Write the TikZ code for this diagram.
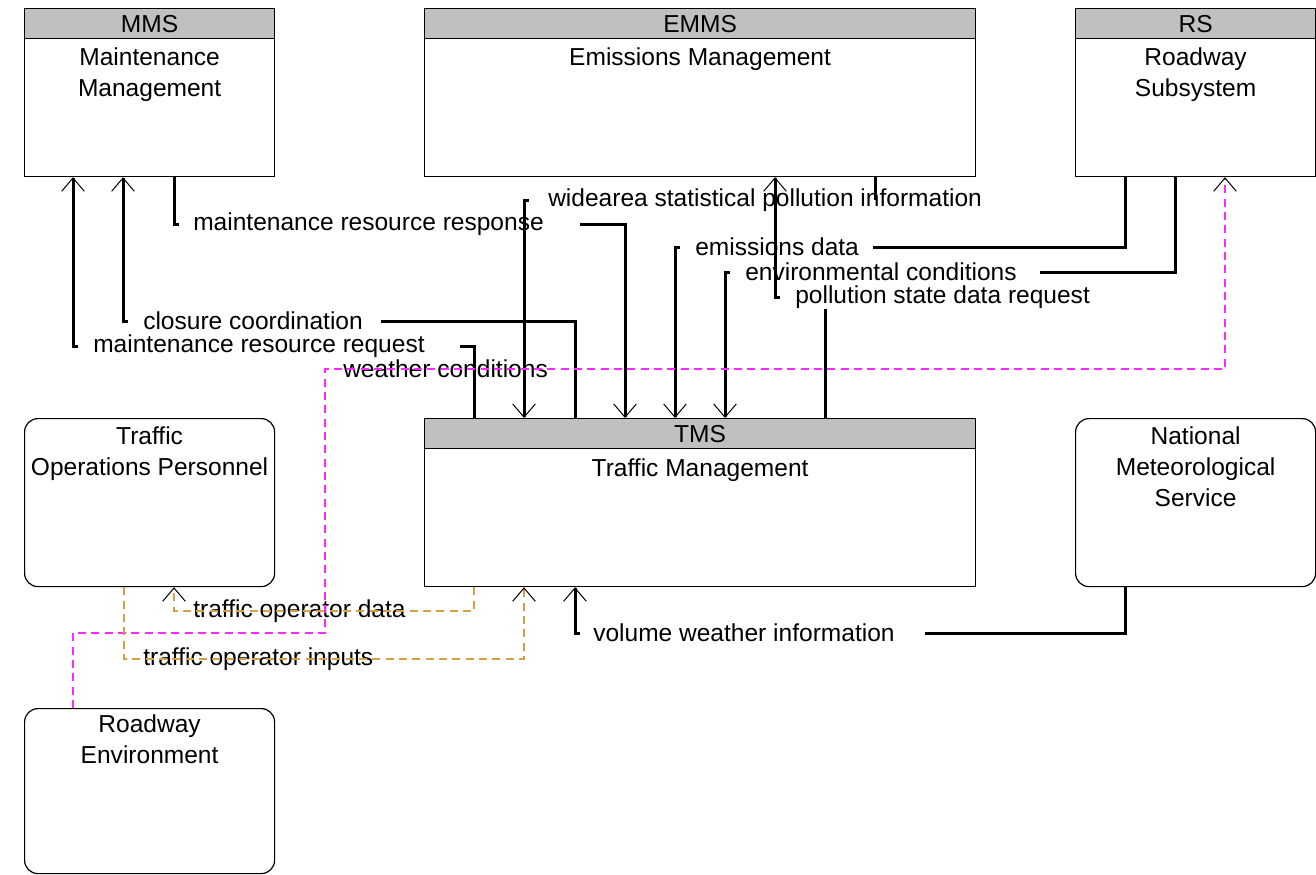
\documentclass[tikz,border=0pt]{standalone}
\usepackage{fontspec}
\setmainfont{Liberation Sans}
\usetikzlibrary{arrows.meta}

\definecolor{hdrgray}{RGB}{192,192,192}
\definecolor{wxmag}{RGB}{255,40,255}
\definecolor{opgold}{RGB}{215,160,70}

\tikzset{
  sysbox/.style={draw, line width=0.9pt, fill=white, inner sep=0, anchor=north west},
  termbox/.style={sysbox, rounded corners=10pt},
  hdrbox/.style={draw, line width=0.9pt, fill=hdrgray, inner sep=0, anchor=north west},
  ttl/.style={inner sep=0, anchor=north, align=center},
  lbl/.style={inner sep=0, anchor=west},
  flow/.style={line width=2.25pt},
  wxlink/.style={line width=0.9pt, draw=wxmag, dash pattern=on 6pt off 4pt},
  oplink/.style={line width=0.9pt, draw=opgold, dash pattern=on 6pt off 4pt},
  >={Straight Barb[length=10pt,width=17pt,line width=0.75pt,color=black]}
}

\begin{document}
\begin{tikzpicture}[x=0.75pt,y=-0.75pt,font=\fontsize{18.4}{23.3}\selectfont]

\newcommand\PX{0.75pt}
\newcommand\HD{30}

\useasboundingbox (0,0) rectangle (1316,874);

%% subsystems
\node[sysbox, minimum width=250*\PX, minimum height=168*\PX] (mms) at (24,8) {};
\node[hdrbox, minimum width=250*\PX, minimum height=\HD*\PX] (mmsh) at (mms.north west) {MMS};
\node[ttl] at ([yshift=-8*\PX]mmsh.south) {Maintenance\\Management};

\node[sysbox, minimum width=551*\PX, minimum height=168*\PX] (emms) at (424,8) {};
\node[hdrbox, minimum width=551*\PX, minimum height=\HD*\PX] (emmsh) at (emms.north west) {EMMS};
\node[ttl] at ([yshift=-8*\PX]emmsh.south) {Emissions Management};

\node[sysbox, minimum width=240*\PX, minimum height=168*\PX] (rs) at (1075,8) {};
\node[hdrbox, minimum width=240*\PX, minimum height=\HD*\PX] (rsh) at (rs.north west) {RS};
\node[ttl] at ([yshift=-8*\PX]rsh.south) {Roadway\\Subsystem};

\node[sysbox, minimum width=551*\PX, minimum height=168*\PX] (tms) at (424,418) {};
\node[hdrbox, minimum width=551*\PX, minimum height=\HD*\PX] (tmsh) at (tms.north west) {TMS};
\node[ttl] at ([yshift=-9*\PX]tmsh.south) {Traffic Management};

%% terminators
\node[termbox, minimum width=250*\PX, minimum height=168*\PX] (top) at (24,418) {};
\node[ttl] at ([yshift=-8*\PX]top.north) {Traffic\\Operations Personnel};

\node[termbox, minimum width=240*\PX, minimum height=168*\PX] (nms) at (1075,418) {};
\node[ttl] at ([yshift=-8*\PX]nms.north) {National\\Meteorological\\Service};

\node[termbox, minimum width=250*\PX, minimum height=165*\PX] (re) at (24,708) {};
\node[ttl] at ([yshift=-6*\PX]re.north) {Roadway\\Environment};

%% flow labels
\node[lbl] (lwsp) at (548,200) {widearea statistical pollution information};
\node[lbl] (lmrs) at (193,224) {maintenance resource response};
\node[lbl] (led)  at (695,247) {emissions data};
\node[lbl] (lenv) at (745,272) {environmental conditions};
\node[lbl] (lpsd) at (795,297) {pollution state data request};
\node[lbl] (lcc)  at (143,321) {closure coordination};
\node[lbl] (lmrr) at (93,346)  {maintenance resource request};
\node[lbl] (lwc)  at (343,369) {weather conditions};
\node[lbl] (ltod) at (193,611) {traffic operator data};
\node[lbl] (lvwi) at (593,633) {volume weather information};
\node[lbl] (ltoi) at (143,659) {traffic operator inputs};

%% solid flows
\draw[flow] ([xshift=50*\PX]tms.north west) |- ([xshift=35*\PX]lmrr.east);
\draw[flow,->] ([xshift=-15*\PX]lmrr.west) -| ([xshift=49*\PX]mms.south west);

\draw[flow] ([xshift=151*\PX]tms.north west) |- ([xshift=18*\PX]lcc.east);
\draw[flow,->] ([xshift=-15*\PX]lcc.west) -| ([xshift=99*\PX]mms.south west);

\draw[flow] ([xshift=150*\PX]mms.south west) |- ([xshift=-14*\PX]lmrs.west);
\draw[flow,->] ([xshift=36*\PX]lmrs.east) -| ([xshift=201*\PX]tms.north west);

\coordinate (pwsp) at ([xshift=451*\PX]emms.south west);
\draw[flow] (pwsp) -- (pwsp |- lwsp.center);
\draw[flow,->] ([xshift=-19*\PX]lwsp.west) -| ([xshift=100*\PX]tms.north west);

\draw[flow] ([xshift=50*\PX]rs.south west) |- ([xshift=14*\PX]led.east);
\draw[flow,->] ([xshift=-15*\PX]led.west) -| ([xshift=251*\PX]tms.north west);

\draw[flow] ([xshift=100*\PX]rs.south west) |- ([xshift=23*\PX]lenv.east);
\draw[flow,->] ([xshift=-15*\PX]lenv.west) -| ([xshift=301*\PX]tms.north west);

\coordinate (ppsd) at ([xshift=401*\PX]tms.north west);
\draw[flow] (ppsd) -- (ppsd |- lpsd.south);
\draw[flow,->] ([xshift=-15*\PX]lpsd.west) -| ([xshift=351*\PX]emms.south west);

\draw[flow] ([xshift=50*\PX]nms.south west) |- ([xshift=30*\PX]lvwi.east);
\draw[flow,->] ([xshift=-13*\PX]lvwi.west) -| ([xshift=151*\PX]tms.south west);

%% dashed flows
\coordinate (wcbend) at (325,633);
\draw[wxlink,->] ([xshift=49*\PX]re.north west) |- (wcbend) |- (lwc.west) -| ([xshift=150*\PX]rs.south west);

\draw[oplink,->] ([xshift=50*\PX]tms.south west) |- (ltod.east) -| ([xshift=150*\PX]top.south west);
\draw[oplink,->] ([xshift=100*\PX]top.south west) |- (ltoi.west) -| ([xshift=100*\PX]tms.south west);

\end{tikzpicture}
\end{document}
